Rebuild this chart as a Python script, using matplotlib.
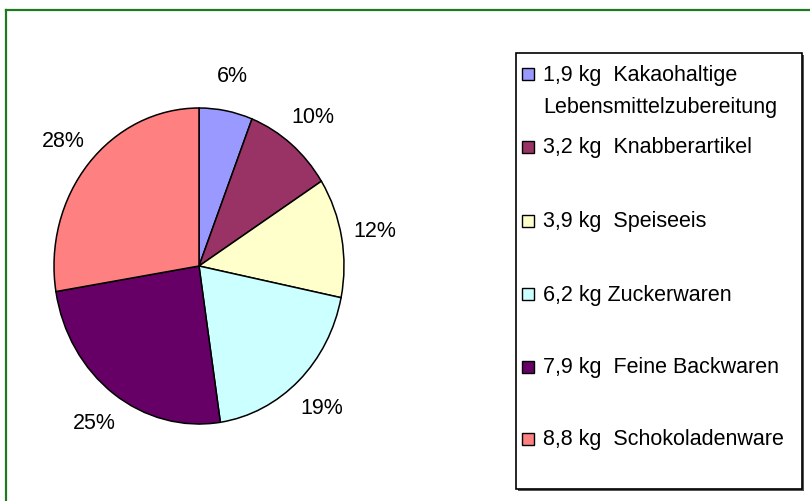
import matplotlib
matplotlib.use("Agg")
import matplotlib.pyplot as plt
from matplotlib.patches import Rectangle
from matplotlib.lines import Line2D

plt.rcParams['font.family'] = ['Liberation Sans', 'DejaVu Sans']

# Data
values = [1.9, 3.2, 3.9, 6.2, 7.9, 8.8]
categories = ["Kakaohaltige\nLebensmittelzubereitung", "Knabberartikel", "Speiseeis",
              "Zuckerwaren", "Feine Backwaren", "Schokoladenware"]
amount_labels = ["1,9 kg  ", "3,2 kg  ", "3,9 kg  ", "6,2 kg ", "7,9 kg  ", "8,8 kg  "]
colors = ["#9999FF", "#993366", "#FFFFCC", "#CCFFFF", "#660066", "#FF8080"]

W, H = 810, 502
fig = plt.figure(figsize=(W / 100, H / 100), dpi=100)

def fx(x):
    return x / W

def fy(y):
    return 1 - y / H

# Pie axes (slightly elliptical as in reference)
cx, cy, rx, ry = 199, 267, 145, 158
ax = fig.add_axes([fx(cx - rx), fy(cy + ry), 2 * rx / W, 2 * ry / H])
wedges, texts, autotexts = ax.pie(
    values, colors=colors, startangle=90, counterclock=False,
    autopct='%1.0f%%', pctdistance=1.23,
    wedgeprops=dict(edgecolor='black', linewidth=1.1),
    textprops=dict(fontsize=15.5, color='black'))
ax.set_aspect('auto')
ax.set_xlim(-1, 1)
ax.set_ylim(-1, 1)
ax.axis('off')

# Green outer frame (top and left edges visible)
fig.add_artist(Line2D([fx(6), fx(812)], [fy(11), fy(11)], color='#1f7a1f', lw=1.6))
fig.add_artist(Line2D([fx(6), fx(6)], [fy(11), fy(504)], color='#1f7a1f', lw=1.6))

# Legend box with slight shadow
lx0, ly0, lx1, ly1 = 516, 54, 802, 490
fig.add_artist(Rectangle((fx(lx0 + 2), fy(ly1 + 2)), (lx1 - lx0) / W, (ly1 - ly0) / H,
                         facecolor='#555555', edgecolor='none'))
fig.add_artist(Rectangle((fx(lx0), fy(ly1)), (lx1 - lx0) / W, (ly1 - ly0) / H,
                         facecolor='white', edgecolor='black', lw=1.2))
row_y = [75, 148, 222, 295, 368, 440]
for yv, amt, cat, col in zip(row_y, amount_labels, categories, colors):
    fig.add_artist(Rectangle((fx(522), fy(yv + 6)), 12 / W, 12 / H,
                             facecolor=col, edgecolor='black', lw=1.0))
    lines = (amt + cat).split("\n")
    for i, ln in enumerate(lines):
        fig.text(fx(543), fy(yv + 32 * i), ln, fontsize=15.5, va='center', ha='left', color='black')

fig.savefig("out.png", dpi=100, facecolor='white')
